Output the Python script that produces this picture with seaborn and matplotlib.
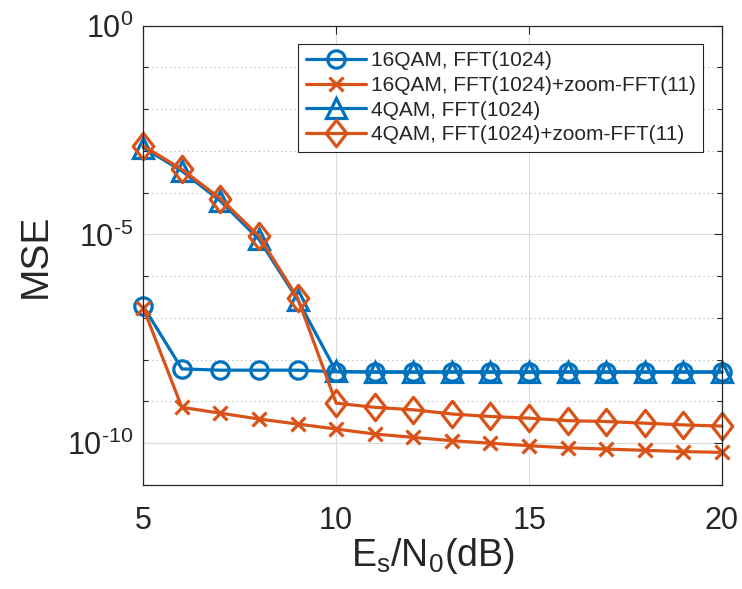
import matplotlib
matplotlib.use("Agg")
import matplotlib.pyplot as plt
import seaborn as sns
import numpy as np
import pandas as pd
from matplotlib.path import Path

# ---------------- data ----------------
snr_db = [5, 6, 7, 8, 9, 10, 11, 12, 13, 14, 15, 16, 17, 18, 19, 20]

mse_16qam_fft = [1.90e-7, 6.03e-9, 5.62e-9, 5.62e-9, 5.62e-9, 5.13e-9, 5.13e-9, 5.13e-9,
                 5.13e-9, 5.13e-9, 5.13e-9, 5.13e-9, 5.13e-9, 5.13e-9, 5.13e-9, 5.13e-9]
mse_16qam_zoom = [1.74e-7, 7.24e-10, 5.25e-10, 3.80e-10, 2.88e-10, 2.19e-10, 1.66e-10, 1.38e-10,
                  1.15e-10, 1.00e-10, 8.71e-11, 7.76e-11, 7.24e-11, 6.76e-11, 6.31e-11, 6.03e-11]
mse_4qam_fft = [1.20e-3, 3.31e-4, 6.31e-5, 7.59e-6, 2.75e-7, 5.25e-9, 5.01e-9, 5.01e-9,
                5.01e-9, 5.01e-9, 5.01e-9, 5.01e-9, 5.01e-9, 5.01e-9, 5.01e-9, 5.01e-9]
mse_4qam_zoom = [1.32e-3, 3.63e-4, 7.24e-5, 9.12e-6, 3.02e-7, 9.12e-10, 7.24e-10, 6.31e-10,
                 5.01e-10, 4.37e-10, 3.98e-10, 3.47e-10, 3.31e-10, 3.02e-10, 2.75e-10, 2.57e-10]

labels = ["16QAM, FFT(1024)", "16QAM, FFT(1024)+zoom-FFT(11)",
          "4QAM, FFT(1024)", "4QAM, FFT(1024)+zoom-FFT(11)"]

x_ticks = [5, 10, 15, 20]
y_major = [1e-10, 1e-5, 1e0]
y_tick_labels = [r"$\mathregular{10^{\text{-}10}}$", r"$\mathregular{10^{\text{-}5}}$",
                 r"$\mathregular{10^{0}}$"]

# ---------------- style ----------------
sns.set_theme(style="white")
plt.rcParams["font.family"] = ["Liberation Sans", "DejaVu Sans"]
plt.rcParams["mathtext.fontset"] = "custom"
plt.rcParams["mathtext.rm"] = "Liberation Sans"
plt.rcParams["mathtext.it"] = "Liberation Sans:italic"
plt.rcParams["mathtext.bf"] = "Liberation Sans:bold"

BLUE = "#0072BD"
ORANGE = "#D95319"
TXT = "#262626"

fig = plt.figure(figsize=(7.42, 5.89), dpi=100)
ax = fig.add_axes([0.1931, 0.1766, 0.7799, 0.7798])

diamond = Path([(0, 1.0), (0.78, 0), (0, -1.0), (-0.78, 0), (0, 1.0)],
               [Path.MOVETO, Path.LINETO, Path.LINETO, Path.LINETO, Path.CLOSEPOLY])

series = [
    (mse_16qam_fft, BLUE, "o", 12.5, labels[0]),
    (mse_16qam_zoom, ORANGE, "x", 10, labels[1]),
    (mse_4qam_fft, BLUE, "^", 14, labels[2]),
    (mse_4qam_zoom, ORANGE, diamond, 19, labels[3]),
]

for vals, col, mk, ms, lab in series:
    df = pd.DataFrame({"x": snr_db, "y": vals})
    sns.lineplot(data=df, x="x", y="y", ax=ax, color=col, marker=mk, markersize=ms,
                 markerfacecolor="none", markeredgecolor=col, markeredgewidth=2.3,
                 linewidth=2.3, label=lab, legend=False, clip_on=False)

ax.set_yscale("log")
ax.set_xlim(5, 20)
ax.set_ylim(1e-11, 1e0)

ax.set_xticks(x_ticks)
ax.set_xticklabels([str(v) for v in x_ticks])
ax.set_yticks(y_major)
ax.set_yticklabels(y_tick_labels)
minor = [10.0 ** k for k in range(-11, 0) if k not in (-10, -5)]
ax.set_yticks(minor, minor=True)
ax.set_yticklabels([], minor=True)
ax.xaxis.set_minor_locator(matplotlib.ticker.NullLocator())

ax.tick_params(axis="both", which="major", direction="in", length=6, width=0.8,
               colors=TXT, labelsize=22, top=True, right=True)
ax.tick_params(axis="x", which="major", pad=15)
ax.tick_params(axis="y", which="major", pad=7)
ax.tick_params(axis="y", which="minor", direction="in", length=3.5, width=0.8,
               colors=TXT, left=True, right=True)

ax.grid(True, which="major", color="#dcdcdc", linewidth=0.8, linestyle="-")
ax.grid(True, which="minor", axis="y", color="#b0b0b0", linewidth=0.8, linestyle=(0, (1, 3)))
ax.set_axisbelow(True)

for sp in ax.spines.values():
    sp.set_visible(True)
    sp.set_color(TXT)
    sp.set_linewidth(0.9)

ax.set_xlabel(r"$\mathregular{E_s/N_0(dB)}$", fontsize=27, color=TXT, labelpad=0)
ax.set_ylabel("MSE", fontsize=28, color=TXT, labelpad=10)

leg = ax.legend(loc="upper right", bbox_to_anchor=(0.968, 0.960), borderaxespad=0,
                fontsize=15, frameon=True, fancybox=False, shadow=False,
                handlelength=2.9, handletextpad=0.25, labelspacing=0.27,
                borderpad=0.35, framealpha=1)
leg.get_frame().set_edgecolor(TXT)
leg.get_frame().set_linewidth(0.8)
for t in leg.get_texts():
    t.set_color(TXT)

fig.savefig("out.png", dpi=100)
